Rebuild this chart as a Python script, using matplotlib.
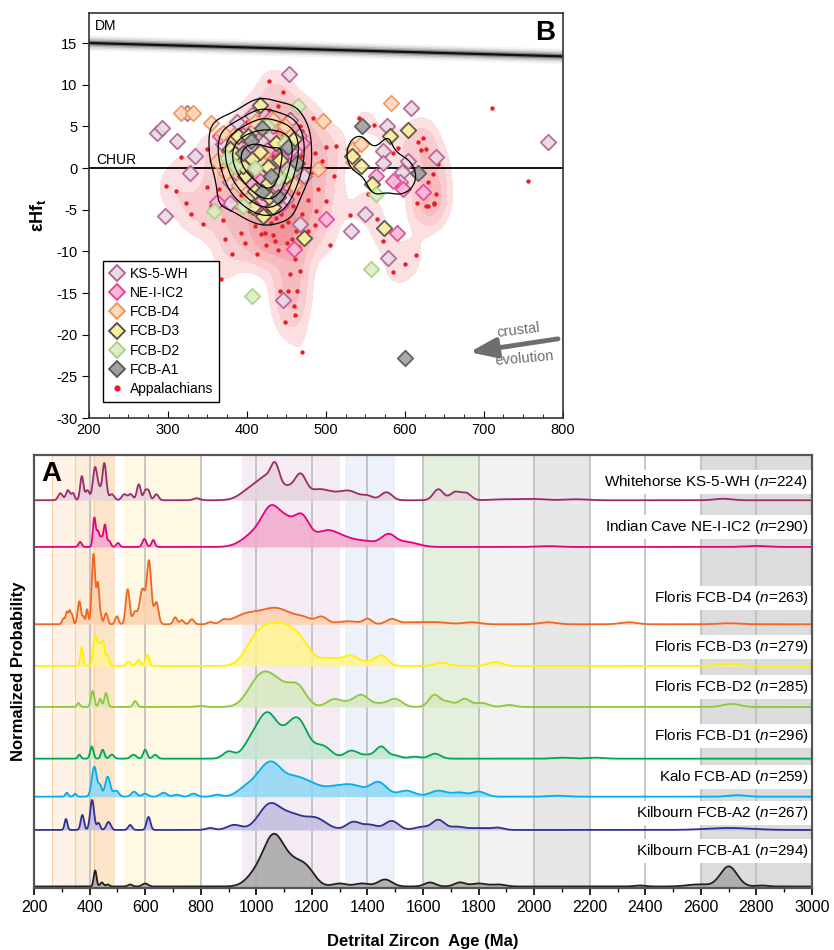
import numpy as np
import matplotlib
matplotlib.use("Agg")
import matplotlib.pyplot as plt
from matplotlib.lines import Line2D
from matplotlib.ticker import MultipleLocator

plt.rcParams['font.family'] = ['Liberation Sans', 'DejaVu Sans']
plt.rcParams['mathtext.fontset'] = 'custom'
plt.rcParams['mathtext.rm'] = 'Liberation Sans'
plt.rcParams['mathtext.it'] = 'Liberation Sans:italic'
plt.rcParams['mathtext.bf'] = 'Liberation Sans:bold'
plt.rcParams['axes.unicode_minus'] = False

# ---------------- panel B data: (age Ma, eHf_t) ----------------
KS_AGE = [453, 286, 292, 312, 324, 334, 328, 296, 406, 454, 466, 410, 429, 446, 370, 378, 395, 416,
          450, 450, 425, 440, 577, 608, 572, 573, 604, 639, 596, 594, 549, 378, 467, 532, 579, 446,
          781, 400, 435, 420, 445, 388, 398, 462, 472, 430, 385]
KS_EHF = [11.3, 4.2, 4.8, 3.3, 6.6, 1.4, -0.6, -5.8, 6.4, 5.8, 3.9, 4.8, 4.1, 3.3, 2.9, -1.7, -0.3, -0.5,
          -1.8, -3.7, 0.1, 0.9, 5.0, 7.2, 2.1, 0.6, 0.9, 1.3, -0.5, -1.7, -5.5, -4.2, -6.7, -7.6, -10.8, -15.8,
          3.1, 2.0, -3.0, 3.0, 1.5, 5.5, -2.5, 2.2, -1.0, 6.0, 0.8]
NE_AGE = [366, 404, 433, 448, 564, 585, 598, 623, 362, 416, 500, 404, 460, 590, 425, 438, 412,
          395, 455, 470, 420, 442]
NE_EHF = [3.8, 2.5, 5.0, 0.1, -0.9, -1.5, -2.5, -2.9, -4.1, -1.5, -6.1, -1.7, -9.7, -7.8, 2.2, -2.2, 0.5,
          4.0, 2.0, 3.0, -3.8, -4.5]
D4_AGE = [317, 332, 355, 383, 433, 454, 497, 582, 534, 544, 534, 490, 362, 374, 421, 416, 433, 404,
          395, 440, 425, 370, 410, 460, 448, 390]
D4_EHF = [6.6, 6.6, 5.4, 3.9, 5.8, 3.9, 5.7, 7.8, 2.3, 2.9, 0.7, -0.1, 0.8, -0.6, 1.7, 0.9, -1.1, -3.5,
          1.2, 3.2, -3.2, 4.2, 5.5, -2.0, 5.0, -2.0]
D3_AGE = [417, 389, 378, 385, 406, 416, 427, 442, 410, 427, 408, 433, 545, 533, 581, 604, 559, 472,
          574, 398, 437, 420, 402, 450, 428, 395, 460]
D3_EHF = [7.6, 3.9, 2.3, 1.7, 1.1, 1.9, 0.1, 1.0, -2.7, -1.8, -4.7, -4.7, 0.3, 1.5, 3.8, 4.6, -1.9, -8.4,
          -7.2, -1.0, 3.0, -5.8, 3.8, -1.0, -3.5, 0.3, 3.5]
D2_AGE = [465, 385, 454, 358, 564, 407, 557, 410, 440, 395, 425, 375, 448]
D2_EHF = [7.4, 0.2, -0.3, -5.1, -3.1, -15.3, -12.1, 0.0, -1.2, -4.5, 5.0, 1.2, 3.0]
A1_AGE = [546, 419, 463, 617, 419, 600, 430, 405, 440, 452, 395]
A1_EHF = [5.0, 4.8, 0.6, -0.6, -2.9, -22.8, -1.0, 3.2, -3.5, 2.5, 1.8]

APP_AGE = [428, 446, 484, 513, 542, 561, 591, 617, 627, 623, 642, 297, 310, 317, 323, 329, 349, 350,
           437, 456, 467, 487, 531, 553, 585, 629, 640, 629, 637, 636, 710, 756, 345, 370, 387, 392,
           381, 413, 418, 424, 435, 440, 431, 461, 467, 455, 452, 464, 460, 461, 448, 442, 470, 367,
           505, 565, 572, 585, 600, 614, 615, 627, 637,
           395, 402, 408, 412, 415, 418, 420, 422, 425, 427, 428, 430, 432, 433, 435, 437, 438, 440,
           441, 443, 445, 447, 448, 450, 452, 454, 456, 458, 460, 462, 465, 468, 470, 472, 475, 478,
           482, 486, 490, 495, 385, 388, 392, 398, 403, 405, 410, 376, 380, 370, 365, 360, 355, 423,
           433, 445, 451, 457, 466, 478, 486, 500, 500, 510, 372, 398, 412, 428, 440, 455, 470, 400,
           620]
APP_EHF = [10.5, 9.1, 6.0, 2.7, 6.0, 5.2, 2.4, 3.1, 2.3, 3.6, 0.5, -2.2, -2.8, 1.3, -4.2, -5.5, -2.3, 2.3,
           5.2, 5.2, 5.1, -5.1, -5.6, -3.1, 1.8, -1.7, -3.1, -4.6, -4.2, -0.7, 7.2, -1.5, -6.7, -6.2, -4.7,
           -7.8, -10.3, -10.3, -7.9, -9.2, -8.7, -9.8, -6.6, -10.9, -12.3, -12.7, -14.8, -14.8, -16.6,
           -17.6, -18.5, -14.8, -22.1, -13.3, -9.2, -6.1, -8.8, -12.5, -11.5, -10.4, -4.2, -4.6, -4.3,
           3.5, 1.0, -2.0, 4.5, 0.5, -3.5, 2.0, -1.0, -5.0, 3.0, -2.5, 0.0, -4.0, 1.5, -1.5, -6.0, 2.5,
           -3.0, 0.5, -5.5, -1.0, 3.5, -3.5, 1.0, -6.5, -2.0, 2.0, -4.5, 0.0, -7.5, -3.0, 1.5, -5.5,
           -1.5, 3.0, -3.8, -0.5, 1.8, -2.5, 0.8, -1.5, 1.8, -3.2, -0.2, -5.2, 2.8, -7.0, 0.5, -4.0,
           2.0, -2.5, 0.8, -4.5, -7.8, -8.0, -7.0, -9.0, -8.5, -9.5, -7.5, -6.8, -4.0, 2.5, -1.0, -8.5,
           -9.0, 6.5, 7.0, 7.5, 6.5, 4.5, 5.5, 2.2]

DM_AGE = [200, 800]
DM_EHF = [15.0, 13.4]

# ---------------- panel A data: KDE peaks (age Ma, height, width Ma) ----------------
KS_PEAKS = [(295, 7, 8), (322, 10, 7), (340, 7, 6), (372, 24, 6), (392, 10, 7), (420, 33, 8),
            (453, 37, 7), (436, 8, 6), (480, 6, 9), (525, 6, 9), (548, 6, 8), (577, 16, 7),
            (600, 9, 6), (612, 9, 6), (640, 6, 8), (785, 2, 12), (990, 13, 40), (1040, 16, 28),
            (1068, 20, 15), (1110, 13, 35), (1160, 20, 20), (1220, 9, 35), (1290, 6, 45),
            (1340, 6, 30), (1400, 4, 20), (1468, 8, 20), (1655, 11, 18), (1715, 8, 18),
            (1755, 7, 18), (1900, 1, 50), (2000, 1.2, 40), (2150, 1, 40), (2680, 1.5, 30)]
NE_PEAKS = [(366, 5, 6), (417, 29, 5), (430, 15, 5), (442, 9, 5), (455, 22, 5), (470, 6, 6),
            (502, 4, 6), (597, 8, 7), (629, 7, 6), (1000, 14, 45), (1058, 34, 33), (1110, 16, 25),
            (1162, 30, 28), (1250, 15, 40), (1320, 7, 40), (1400, 5, 40), (1475, 11, 25),
            (1540, 5, 40), (2050, 0.8, 40), (2800, 1, 40)]
D4_PEAKS = [(306, 6, 5), (318, 12, 4), (328, 13, 4), (337, 9, 4), (363, 23, 6), (378, 7, 4),
            (391, 15, 4), (414, 70, 6), (430, 40, 5), (441, 6, 4), (459, 11, 6), (498, 8, 6),
            (537, 35, 7), (563, 12, 8), (590, 35, 10), (614, 62, 8), (640, 22, 8), (708, 7, 7),
            (732, 4, 7), (768, 5, 8), (834, 2, 10), (882, 3, 12), (960, 9, 45), (1070, 16, 55),
            (1170, 5, 30), (1235, 7, 20), (1330, 3, 40), (1401, 5, 15), (1487, 5, 20),
            (1560, 2, 40), (1650, 2, 40), (1775, 2, 30), (2050, 2, 30), (2340, 2, 30), (2700, 1, 40)]
D3_PEAKS = [(372, 19, 5), (420, 30, 7), (434, 15, 5), (447, 25, 7), (466, 10, 6), (540, 4, 8),
            (576, 6, 8), (608, 11, 7), (1000, 25, 40), (1060, 26, 40), (1120, 28, 40),
            (1170, 12, 30), (1260, 8, 40), (1337, 9, 25), (1395, 4, 30), (1451, 10, 22),
            (1667, 3, 25), (1860, 4, 25), (2700, 1.5, 40)]
D2_PEAKS = [(360, 4, 5), (411, 16, 6), (438, 8, 5), (459, 14, 6), (564, 6, 7), (800, 1, 15),
            (990, 15, 35), (1035, 24, 35), (1090, 17, 35), (1150, 19, 30), (1277, 7, 25),
            (1330, 4, 30), (1379, 11, 25), (1440, 3, 25), (1499, 8, 25), (1641, 12, 20),
            (1690, 5, 20), (1749, 8, 20), (1810, 4, 25), (1910, 2, 20), (2710, 3, 30)]
D1_PEAKS = [(363, 4, 5), (408, 12, 6), (447, 9, 6), (480, 4, 8), (558, 4, 10), (600, 9, 7),
            (636, 4, 8), (900, 7, 20), (980, 14, 30), (1040, 43, 35), (1100, 10, 30),
            (1150, 38, 35), (1240, 12, 30), (1343, 8, 25), (1400, 3, 20), (1449, 12, 20),
            (1500, 3, 20), (1570, 2, 20), (1643, 5, 20), (2100, 1, 30), (2220, 1, 30)]
AD_PEAKS = [(318, 4, 5), (348, 3, 5), (417, 30, 9), (438, 10, 6), (465, 20, 9), (495, 6, 10),
            (560, 5, 10), (600, 3, 10), (666, 4, 12), (714, 2, 12), (774, 3, 12), (860, 2, 15),
            (960, 8, 30), (1010, 12, 30), (1058, 30, 35), (1130, 14, 35), (1190, 12, 40),
            (1280, 8, 40), (1350, 10, 40), (1440, 14, 30), (1540, 6, 30), (1655, 6, 30),
            (1730, 4, 25), (1800, 5, 25), (2080, 1, 30), (2730, 1.5, 30)]
A2_PEAKS = [(315, 11, 5), (374, 15, 6), (409, 30, 7), (432, 7, 6), (468, 8, 8), (546, 5, 7),
            (612, 13, 7), (834, 2, 15), (920, 5, 25), (1050, 26, 40), (1130, 12, 35),
            (1210, 12, 40), (1349, 8, 25), (1409, 5, 25), (1487, 9, 25), (1595, 3, 25),
            (1655, 10, 22), (1720, 3, 25), (1800, 2, 40), (1870, 2, 20), (2700, 2, 80)]
A1_PEAKS = [(420, 16, 5), (444, 4, 6), (465, 2, 6), (546, 2, 8), (600, 3, 10), (1000, 12, 35),
            (1061, 45, 35), (1130, 22, 40), (1185, 12, 30), (1300, 3, 25), (1380, 3, 25),
            (1463, 7, 25), (1625, 4, 20), (1733, 4, 20), (1800, 3, 25), (1870, 2, 25),
            (2380, 1, 20), (2590, 2, 40), (2700, 20, 30), (2820, 1, 20)]

LABELS = ["Whitehorse KS-5-WH ($\\it{n}$=224)", "Indian Cave NE-I-IC2 ($\\it{n}$=290)",
          "Floris FCB-D4 ($\\it{n}$=263)", "Floris FCB-D3 ($\\it{n}$=279)",
          "Floris FCB-D2 ($\\it{n}$=285)", "Floris FCB-D1 ($\\it{n}$=296)",
          "Kalo FCB-AD ($\\it{n}$=259)", "Kilbourn FCB-A2 ($\\it{n}$=267)",
          "Kilbourn FCB-A1 ($\\it{n}$=294)"]
PEAKS = [KS_PEAKS, NE_PEAKS, D4_PEAKS, D3_PEAKS, D2_PEAKS, D1_PEAKS, AD_PEAKS, A2_PEAKS, A1_PEAKS]

# age-range bands in panel A
BANDS = [(266, 347, '#FEF3E6'), (347, 417, '#FDEDDC'), (417, 492, '#FCE4C9'), (525, 800, '#FFF9E4'),
         (950, 1300, '#F5EBF2'), (1320, 1500, '#EDF2FA'), (1600, 1800, '#E4EFDE'),
         (1800, 2000, '#F2F2F2'), (2000, 2200, '#E7E7E7'), (2600, 3000, '#DCDCDC')]

# layout / style (stack offsets in axes units, label heights)
BASES = [387.7, 341, 263.7, 222, 181, 129.3, 91.3, 58, 1.5]
LABEL_Y = [406, 361, 290, 241, 201, 152, 111, 75, 37]
LINE_C = ['#9B2A6B', '#E6007E', '#F26522', '#FFF200', '#8DC63F', '#00A651', '#00AEEF', '#2E3192', '#231F20']
FILL_C = ['#E4D3DB', '#F2A8CC', '#FCD2AE', '#FFF48E', '#D7E9BF', '#C5E5CF', '#8FD6F5', '#C0BCDF', '#A4A6A8']

DIA_STYLE = [('KS-5-WH', KS_AGE, KS_EHF, '#B05F90', '#E9DAE2'),
             ('NE-I-IC2', NE_AGE, NE_EHF, '#E8409A', '#F6B8D6'),
             ('FCB-D4', D4_AGE, D4_EHF, '#F39150', '#FCD9BE'),
             ('FCB-D3', D3_AGE, D3_EHF, '#4D4D3F', '#F9EFA0'),
             ('FCB-D2', D2_AGE, D2_EHF, '#A6D27E', '#DCEDC8'),
             ('FCB-A1', A1_AGE, A1_EHF, '#555555', '#A0A0A0')]

fig = plt.figure(figsize=(8.34, 9.5), dpi=100)

# ====================== panel B ======================
axB = fig.add_axes([0.1067, 0.56, 0.568, 0.4263])
axB.set_xlim(200, 800)
axB.set_ylim(-30, 18.6)

gx, gy = np.meshgrid(np.linspace(200, 800, 301), np.linspace(-30, 18.6, 244))


def kde(xs, ys, bx, by):
    z = np.zeros_like(gx)
    for x, y in zip(xs, ys):
        z += np.exp(-0.5 * (((gx - x) / bx) ** 2 + ((gy - y) / by) ** 2))
    return z / z.max()


zr = kde(APP_AGE, APP_EHF, 15, 2.2)
axB.contourf(gx, gy, zr, levels=[0.13, 0.25, 0.4, 0.58, 0.8, 1.01],
             colors=['#FCE0E1', '#F9CDD0', '#F6BBBF', '#F3A8AE', '#EF959C'], zorder=1)

all_age = sum([s[1] for s in DIA_STYLE], [])
all_ehf = sum([s[2] for s in DIA_STYLE], [])
zd = kde(all_age, all_ehf, 14, 2.0)
axB.contour(gx, gy, zd, levels=[0.2, 0.38, 0.56, 0.74, 0.9], colors='black', linewidths=0.9, zorder=4)

axB.axhline(0, color='black', lw=1.3, zorder=2)
for lw, c in [(11, '#F2F2F2'), (8, '#DADADA'), (5.5, '#B5B5B5'), (3.2, '#7A7A7A'), (1.6, '#111111')]:
    axB.plot(DM_AGE, DM_EHF, color=c, lw=lw, solid_capstyle='butt', zorder=2)

axB.scatter(APP_AGE, APP_EHF, s=10, color='#ED1C24', lw=0, zorder=2.5)
for name, xs, ys, ec, fc in DIA_STYLE:
    axB.scatter(xs, ys, s=62, marker='D', facecolor=fc, edgecolor=ec, linewidths=1.3,
                alpha=0.9, zorder=3)

axB.text(207, 17.0, 'DM', fontsize=10, va='center', ha='left')
axB.text(209, 1.0, 'CHUR', fontsize=10, va='center', ha='left')
axB.text(0.983, 0.951, 'B', transform=axB.transAxes, fontsize=20, fontweight='bold',
         ha='right', va='center')
axB.annotate('', xy=(682, -22.1), xytext=(794, -20.5),
             arrowprops=dict(arrowstyle='-|>,head_width=0.3,head_length=0.8', mutation_scale=20,
                             color='#6D6E71', lw=3.5, shrinkA=0, shrinkB=0))
axB.text(744, -19.5, 'crustal', fontsize=10.5, color='#6D6E71', rotation=7, ha='center', va='center')
axB.text(752, -22.8, 'evolution', fontsize=10.5, color='#6D6E71', rotation=5, ha='center', va='center')

axB.xaxis.set_major_locator(MultipleLocator(100))
axB.xaxis.set_minor_locator(MultipleLocator(25))
axB.yaxis.set_major_locator(MultipleLocator(5))
axB.tick_params(axis='x', which='both', direction='in', labelsize=10.5)
axB.tick_params(axis='x', which='major', length=5)
axB.tick_params(axis='x', which='minor', length=3)
axB.tick_params(axis='y', direction='out', length=5, labelsize=10.5)
for sp in axB.spines.values():
    sp.set_linewidth(1.2)
    sp.set_color('#333333')
axB.set_ylabel('εHf$_\\mathbf{t}$', fontsize=13, fontweight='bold', labelpad=6)

handles = [Line2D([0], [0], marker='D', ls='none', markersize=8.5, markerfacecolor=fc,
                  markeredgecolor=ec, markeredgewidth=1.3, label=name)
           for name, xs, ys, ec, fc in DIA_STYLE]
handles.append(Line2D([0], [0], marker='o', ls='none', markersize=3.5, color='#ED1C24',
                      label='Appalachians'))
leg = axB.legend(handles=handles, loc='lower left', bbox_to_anchor=(0.03, 0.04), fontsize=10,
                 frameon=True, fancybox=False, edgecolor='black', framealpha=1,
                 handletextpad=0.35, labelspacing=0.38, borderpad=0.4, handlelength=1.2,
                 borderaxespad=0)
leg.get_frame().set_linewidth(1.0)
leg.set_zorder(6)

# ====================== panel A ======================
axA = fig.add_axes([0.0408, 0.0653, 0.9329, 0.4558])
axA.set_xlim(200, 3000)
axA.set_ylim(0, 433)
ages = np.linspace(200, 3000, 2801)

for lo, hi, c in BANDS:
    axA.axvspan(lo, hi, color=c, lw=0, zorder=0)
for x in [266, 347, 417]:
    axA.axvline(x, color='#F7CFA6', lw=0.8, zorder=0.5)
for x in range(400, 3000, 200):
    axA.axvline(x, color='#BDBDBD', lw=1.2, zorder=0.6)

for peaks, base, ly, lc, fc, lab in zip(PEAKS, BASES, LABEL_Y, LINE_C, FILL_C, LABELS):
    y = base + sum(h * np.exp(-0.5 * ((ages - c) / s) ** 2) for c, h, s in peaks)
    axA.fill_between(ages, base, y, color=fc, alpha=0.85, lw=0, zorder=1)
    axA.plot(ages, y, color=lc, lw=1.3, zorder=2)
    axA.text(2987, ly, lab, ha='right', va='center', fontsize=11, zorder=5,
             bbox=dict(facecolor='white', edgecolor='none', pad=2))

axA.text(0.01, 0.955, 'A', transform=axA.transAxes, fontsize=20, fontweight='bold',
         ha='left', va='center', zorder=6)
axA.set_yticks([])
axA.xaxis.set_major_locator(MultipleLocator(200))
axA.xaxis.set_minor_locator(MultipleLocator(100))
axA.tick_params(axis='x', which='major', length=5, width=1.2, labelsize=11.5)
axA.tick_params(axis='x', which='minor', length=3, width=1.0)
for sp in axA.spines.values():
    sp.set_linewidth(1.6)
    sp.set_color('#555555')
axA.set_xlabel('Detrital Zircon  Age (Ma)', fontsize=12, fontweight='bold', labelpad=14)
axA.set_ylabel('Normalized Probability', fontsize=12, fontweight='bold', labelpad=6)

fig.savefig('out.png', dpi=100)
